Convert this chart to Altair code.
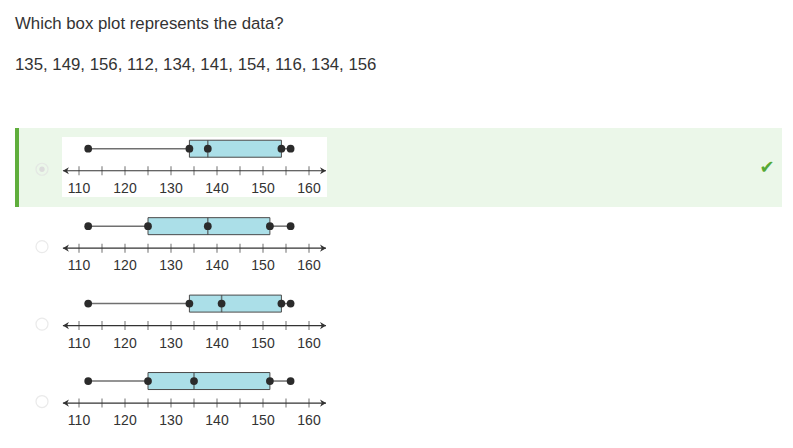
import altair as alt
import pandas as pd

# ---------------- data ----------------
question = "Which box plot represents the data?"
data_values = [135, 149, 156, 112, 134, 141, 154, 116, 134, 156]

rows = [0, 1, 2, 3]
mins = [112, 112, 112, 112]
q1s = [134, 125, 134, 125]
medians = [138, 138, 141, 135]
q3s = [154, 151.5, 154, 151.5]
maxs = [156, 156, 156, 156]
selected_row = 0

tick_values = [110, 115, 120, 125, 130, 135, 140, 145, 150, 155, 160]
label_values = [110, 120, 130, 140, 150, 160]
line_start = 106.5
line_end = 163.7

# ---------------- layout ----------------
W, H = 777, 425
PX_PER_UNIT = 4.6
X0 = 110 - (79 - 8) / PX_PER_UNIT
X1 = X0 + W / PX_PER_UNIT
ROW0_Y = 139.0
ROW_STEP = 79.3
Y0 = -ROW0_Y / ROW_STEP
Y1 = Y0 + H / ROW_STEP

xs = alt.Scale(domain=[X0, X1], nice=False, zero=False)
ys = alt.Scale(domain=[Y0, Y1], nice=False, zero=False, reverse=True)

FONT = "Liberation Sans"
TXT = "#333333"

boxes = pd.DataFrame({"row": rows, "lo": mins, "q1": q1s, "med": medians,
                      "q3": q3s, "hi": maxs})
points = pd.DataFrame(
    [{"row": r, "value": v}
     for r, a, b, c, d, e in zip(rows, mins, q1s, medians, q3s, maxs)
     for v in (a, b, c, d, e)]
)
ticks = pd.DataFrame([{"row": r, "value": t} for r in rows for t in tick_values])
labels = pd.DataFrame([{"row": r, "value": t, "label": str(t)} for r in rows for t in label_values])
lines = pd.DataFrame({"row": rows, "start": [line_start] * 4, "end": [line_end] * 4})
radio = pd.DataFrame({"row": rows})
sel = pd.DataFrame({"row": [selected_row]})
one = pd.DataFrame({"a": [0]})


def X(field):
    return alt.X(f"{field}:Q", scale=xs, axis=None)


def Y():
    return alt.Y("row:Q", scale=ys, axis=None)


# ---------------- decorations ----------------
green_bg = alt.Chart(one).mark_rect(color="#ebf7e9").encode(
    x=alt.value(7), x2=alt.value(774), y=alt.value(120), y2=alt.value(199))
green_bar = alt.Chart(one).mark_rect(color="#5fae3c").encode(
    x=alt.value(7), x2=alt.value(11), y=alt.value(120), y2=alt.value(199))
white_panel = alt.Chart(one).mark_rect(color="#ffffff").encode(
    x=alt.value(54), x2=alt.value(319), y=alt.value(129), y2=alt.value(189))
check = alt.Chart(pd.DataFrame({"t": ["\u2714"]})).mark_text(
    font="DejaVu Sans", fontSize=18, color="#55a934", baseline="middle", align="center"
).encode(x=alt.value(759), y=alt.value(160), text="t:N")

title1 = alt.Chart(pd.DataFrame({"t": [question]})).mark_text(
    font=FONT, fontSize=16.8, color=TXT, align="left", baseline="middle"
).encode(x=alt.value(7), y=alt.value(16), text="t:N")
title2 = alt.Chart(pd.DataFrame({"t": [", ".join(str(v) for v in data_values)]})).mark_text(
    font=FONT, fontSize=16.8, color=TXT, align="left", baseline="middle"
).encode(x=alt.value(7), y=alt.value(57), text="t:N")

radio_ring = alt.Chart(radio).mark_point(
    shape="circle", size=144, filled=False, stroke="#e2e2e2", strokeWidth=1.2, yOffset=20.5
).encode(x=alt.value(34), y=Y())
radio_dot = alt.Chart(sel).mark_circle(size=28, color="#dcdcdc", opacity=1, yOffset=20.5).encode(
    x=alt.value(34), y=Y())

# ---------------- number lines ----------------
nline = alt.Chart(lines).mark_rule(color=TXT, strokeWidth=1.2, yOffset=22).encode(
    x=X("start"), x2="end:Q", y=Y())
arrow_l = alt.Chart(lines).mark_point(
    shape="M 0 0 L 1 -0.6 L 0.7 0 L 1 0.6 Z", size=144, filled=True, color=TXT,
    opacity=1, yOffset=22).encode(x=X("start"), y=Y())
arrow_r = alt.Chart(lines).mark_point(
    shape="M 0 0 L -1 -0.6 L -0.7 0 L -1 0.6 Z", size=144, filled=True, color=TXT,
    opacity=1, yOffset=22).encode(x=X("end"), y=Y())
tick_marks = alt.Chart(ticks).mark_tick(
    orient="vertical", size=9, thickness=1, color=TXT, yOffset=22).encode(x=X("value"), y=Y())
tick_labels = alt.Chart(labels).mark_text(
    font=FONT, fontSize=14, color=TXT, baseline="middle", align="center", yOffset=40
).encode(x=X("value"), y=Y(), text="label:N")

# ---------------- box plots ----------------
whisk_l = alt.Chart(boxes).mark_rule(color="#707070", strokeWidth=1.5).encode(
    x=X("lo"), x2="q1:Q", y=Y())
whisk_r = alt.Chart(boxes).mark_rule(color="#707070", strokeWidth=1.5).encode(
    x=X("q3"), x2="hi:Q", y=Y())
box = alt.Chart(boxes).mark_bar(
    orient="horizontal", size=17, fill="#abdfe8", stroke="#4a4a4a", strokeWidth=1
).encode(x=X("q1"), x2="q3:Q", y=Y())
median = alt.Chart(boxes).mark_tick(
    orient="vertical", size=17, thickness=1.5, color="#444444").encode(x=X("med"), y=Y())
dots = alt.Chart(points).mark_circle(size=60, color="#2b2b2b", opacity=1).encode(
    x=X("value"), y=Y())

chart = alt.layer(
    green_bg, green_bar, white_panel, check, title1, title2, radio_ring, radio_dot,
    whisk_l, whisk_r, nline, arrow_l, arrow_r, tick_marks, tick_labels,
    box, median, dots
).properties(
    width=W, height=H, padding=0, autosize="none", background="#ffffff"
).configure_view(strokeWidth=0)

chart.save("out.html", embed_options={"renderer": "svg", "actions": False})
